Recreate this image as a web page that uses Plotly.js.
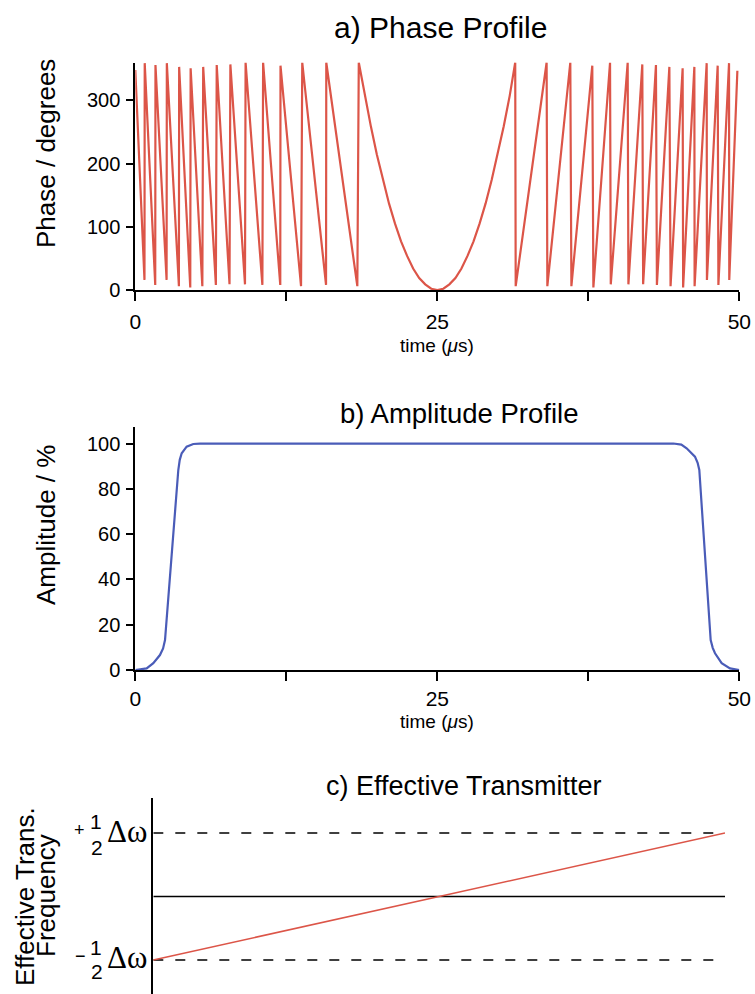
<!DOCTYPE html>
<html>
<head>
<meta charset="utf-8">
<script src="https://cdn.plot.ly/plotly-3.0.1.min.js"></script>
<style>
  html, body { margin: 0; padding: 0; background: #ffffff; }
  #chart { width: 755px; height: 994px; }
</style>
</head>
<body>
<div id="chart"></div>
<script>
// ---------- data ----------
// a) Phase profile: wrapped chirp phase (time in microseconds, phase in degrees)
const phaseTime = [
  0.00, 0.76, 0.78, 1.65, 1.67, 2.59, 2.61, 3.61, 3.63, 4.55, 4.58,
  5.55, 5.62, 6.67, 6.74, 7.80, 7.87, 9.08, 9.13, 10.52, 10.58,
  12.00, 12.02, 13.72, 13.82, 15.79, 15.81, 18.38, 18.50,
  19.0, 19.5, 20.0, 20.5, 21.0, 21.5, 22.0, 22.5, 23.0, 23.5, 24.0, 24.5,
  25.0, 25.5, 26.0, 26.5, 27.0, 27.5, 28.0, 28.5, 29.0, 29.5, 30.0, 30.5, 31.0, 31.45,
  31.49, 34.05, 34.11, 36.01, 36.10, 37.83, 37.92, 39.30, 39.36, 40.76,
  40.82, 41.97, 42.04, 43.10, 43.18, 44.21, 44.31, 45.31, 45.35, 46.28,
  46.30, 47.30, 47.32, 48.21, 48.27, 49.15, 49.17, 49.84
];
const phaseDeg = [
  348, 16, 359, 8, 356, 16, 359, 6, 353, 4, 351,
  6, 353, 8, 356, 9, 357, 9, 360, 8, 360,
  8, 355, 6, 360, 8, 360, 6, 360,
  308, 259, 214, 174, 137, 105, 77, 54, 34, 19, 9, 2,
  0, 2, 9, 19, 34, 54, 77, 105, 137, 174, 214, 259, 308, 360,
  6, 360, 6, 360, 6, 355, 4, 360, 9, 360,
  9, 357, 9, 356, 8, 353, 6, 351, 4, 353,
  6, 359, 16, 355, 8, 359, 16, 347
];
const phaseTicks = [0, 100, 200, 300];

// b) Amplitude profile (time in microseconds, amplitude in %)
const ampTime = [0, 0.94, 1.49, 2.04, 2.30, 2.46, 3.56, 3.68, 3.84, 4.25, 4.80, 5.36,
                 44.54, 45.20, 45.64, 46.33, 46.55, 46.69, 47.63, 47.80, 47.99, 48.54, 49.23, 50];
const ampValue = [0, 0.7, 3.0, 6.6, 9.5, 13.2, 88.3, 92.8, 95.7, 98.6, 99.8, 100,
                  100, 99.5, 97.9, 94.2, 91.5, 88.3, 13.2, 9.8, 7.4, 3.0, 0.7, 0];
const ampTicks = [0, 20, 40, 60, 80, 100];

// shared time axis ticks
const timeTickVals = [0, 12.5, 25, 37.5, 50];
const timeTickText = ['0', '', '25', '', '50'];

// c) Effective transmitter sweep (normalised: from -1/2 Δω to +1/2 Δω)
const sweepX = [0, 1];
const sweepY = [-0.5, 0.5];
const bandEdges = [-0.5, 0.5];
const guideX = [0, 0.98];
const centreX = [0, 1];
const centreY = [0, 0];

// ---------- layout helpers (pixel -> paper) ----------
const W = 755, H = 994;
const PX = v => v / W;
const PY = v => 1 - v / H;

const RED = '#DC5548';
const BLUE = '#4A5CB8';
const FONT = '"Liberation Sans", Arial, Helvetica, sans-serif';
const SERIF = '"Liberation Serif", "DejaVu Serif", serif';

const baseAxis = {
  showline: true, linecolor: '#000', linewidth: 2, mirror: false,
  showgrid: false, zeroline: false, ticks: 'outside', tickcolor: '#000', tickwidth: 2,
  fixedrange: true
};

const traces = [
  { x: phaseTime, y: phaseDeg, xaxis: 'x', yaxis: 'y', mode: 'lines',
    line: { color: RED, width: 2.2 }, hoverinfo: 'skip' },
  { x: ampTime, y: ampValue, xaxis: 'x2', yaxis: 'y2', mode: 'lines',
    line: { color: BLUE, width: 2.2 }, hoverinfo: 'skip' },
  { x: guideX, y: [bandEdges[1], bandEdges[1]], xaxis: 'x3', yaxis: 'y3', mode: 'lines',
    line: { color: '#000', width: 1.5, dash: '10px,12px' }, hoverinfo: 'skip' },
  { x: guideX, y: [bandEdges[0], bandEdges[0]], xaxis: 'x3', yaxis: 'y3', mode: 'lines',
    line: { color: '#000', width: 1.5, dash: '10px,12px' }, hoverinfo: 'skip' },
  { x: centreX, y: centreY, xaxis: 'x3', yaxis: 'y3', mode: 'lines',
    line: { color: '#000', width: 1.5 }, hoverinfo: 'skip' },
  { x: sweepX, y: sweepY, xaxis: 'x3', yaxis: 'y3', mode: 'lines',
    line: { color: RED, width: 1.5 }, hoverinfo: 'skip' }
];

const txt = (text, x, y, size, extra) => Object.assign({
  text: text, xref: 'paper', yref: 'paper', x: PX(x), y: PY(y),
  showarrow: false, xanchor: 'center', yanchor: 'middle',
  font: { family: FONT, size: size, color: '#000' }
}, extra || {});

const lvl = (text, x, level, shift, size, family) => ({
  text: text, xref: 'paper', yref: 'y3', x: PX(x), y: level, yshift: shift,
  showarrow: false, xanchor: 'center', yanchor: 'middle',
  font: { family: family || FONT, size: size, color: '#000' }
});

const layout = {
  width: W, height: H,
  margin: { l: 0, r: 0, t: 0, b: 0, pad: 0 },
  paper_bgcolor: '#fff', plot_bgcolor: '#fff',
  showlegend: false,
  font: { family: FONT, color: '#000' },
  xaxis: Object.assign({}, baseAxis, {
    domain: [PX(135.3), PX(739.3)], range: [0, 50], anchor: 'y',
    tickvals: timeTickVals, ticktext: timeTickText, ticklen: 9,
    tickfont: { family: FONT, size: 21 }, ticklabelstandoff: 3
  }),
  yaxis: Object.assign({}, baseAxis, {
    domain: [PY(290), PY(62.5)], range: [0, 360], anchor: 'x',
    tickvals: phaseTicks, ticklen: 7,
    tickfont: { family: FONT, size: 20 }, ticklabelstandoff: 2
  }),
  xaxis2: Object.assign({}, baseAxis, {
    domain: [PX(135.3), PX(739.3)], range: [0, 50], anchor: 'y2',
    tickvals: timeTickVals, ticktext: timeTickText, ticklen: 9,
    tickfont: { family: FONT, size: 21 }, ticklabelstandoff: 0
  }),
  yaxis2: Object.assign({}, baseAxis, {
    domain: [PY(670), PY(427)], range: [0, 107.3], anchor: 'x2',
    tickvals: ampTicks, ticklen: 7,
    tickfont: { family: FONT, size: 20 }, ticklabelstandoff: 2
  }),
  xaxis3: {
    domain: [PX(153.3), PX(725)], range: [0, 1], anchor: 'y3',
    visible: false, fixedrange: true
  },
  yaxis3: {
    domain: [0, PY(798)], range: [-0.768, 0.776], anchor: 'x3',
    showline: true, linecolor: '#000', linewidth: 2, showgrid: false, zeroline: false,
    ticks: '', showticklabels: false, fixedrange: true
  },
  annotations: [
    txt('a) Phase Profile', 440, 27, 30),
    txt('b) Amplitude Profile', 459, 413, 27.5),
    txt('c) Effective Transmitter', 464, 786, 27),
    txt('Phase / degrees', 46, 154, 26, { textangle: -90 }),
    txt('Amplitude / %', 46, 525, 26, { textangle: -90 }),
    txt('time (<i>μ</i>s)', 437, 346, 19),
    txt('time (<i>μ</i>s)', 437, 721, 19),
    txt('Effective Trans.', 25, 897, 26, { textangle: -90 }),
    txt('Frequency', 46, 896, 26, { textangle: -90 }),
    // +1/2 Δω
    lvl('+', 79, bandEdges[1], 3, 18),
    lvl('1', 96, bandEdges[1], 12, 21),
    lvl('2', 97, bandEdges[1], -14, 21),
    lvl('Δω', 127, bandEdges[1], 2, 31, SERIF),
    // -1/2 Δω
    lvl('−', 80, bandEdges[0], 4, 18),
    lvl('1', 96, bandEdges[0], 12, 21),
    lvl('2', 97, bandEdges[0], -12, 21),
    lvl('Δω', 127, bandEdges[0], 2, 31, SERIF)
  ]
};

Plotly.newPlot('chart', traces, layout, { staticPlot: true, displayModeBar: false });
</script>
</body>
</html>
